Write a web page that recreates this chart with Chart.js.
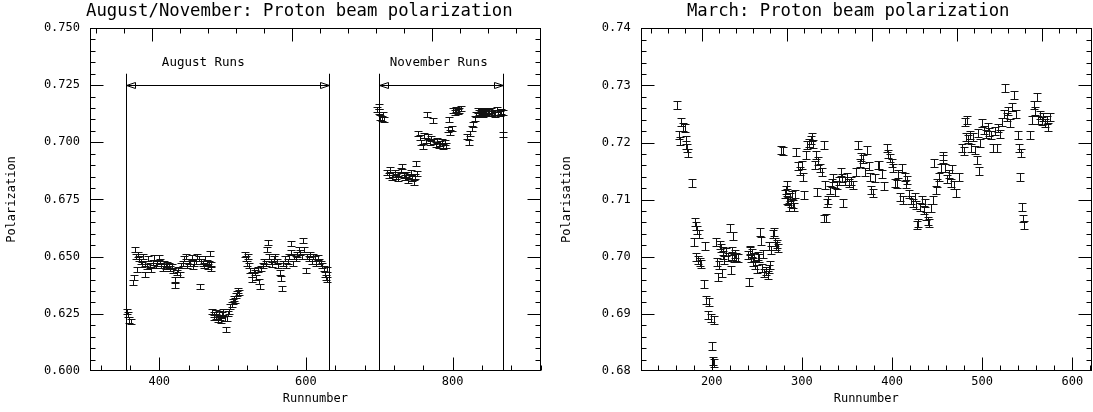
<!DOCTYPE html>
<html>
<head>
<meta charset="utf-8">
<script src="https://cdn.jsdelivr.net/npm/chart.js@4.4.1/dist/chart.umd.min.js"></script>
<style>
  html, body { margin: 0; padding: 0; background: #fff; }
  #wrap { position: relative; width: 1093px; height: 412px; }
  .panel { position: absolute; top: 0; height: 412px; }
  #pL { left: 0; width: 546px; }
  #pR { left: 546px; width: 547px; }
</style>
</head>
<body>
<div id="wrap">
  <div class="panel" id="pL"><canvas id="cL"></canvas></div>
  <div class="panel" id="pR"><canvas id="cR"></canvas></div>
</div>
<script>
/* August runs: run number / polarization */
const augRuns = [356, 358, 359, 361, 364, 365, 367, 368, 369, 371,
  373, 375, 377, 378, 380, 381, 383, 385, 387, 389,
  391, 393, 395, 397, 399, 401, 403, 405, 407, 409,
  411, 413, 415, 417, 419, 421, 422, 424, 426, 428,
  430, 432, 434, 436, 438, 440, 442, 444, 446, 448,
  450, 452, 454, 455, 457, 459, 461, 463, 465, 467,
  468, 469, 470, 471,
  472, 474, 475, 477, 478, 480, 481, 483, 484, 486,
  487, 489, 491, 492, 494, 495, 497, 499, 500, 502,
  503, 505, 506, 508, 509,
  517, 518, 520, 521, 523, 524, 526, 527, 529, 530,
  532, 534, 536, 538, 539, 541, 543, 545, 547, 548,
  550, 552, 554, 556, 558, 560, 562, 564, 566, 567,
  569, 571, 573, 575, 577, 579, 580, 582, 584, 586,
  588, 590, 592, 594, 596, 598, 600, 602, 604, 606,
  608, 610, 612, 614, 616, 618, 620, 622, 624, 626,
  627, 628, 629];
const augPol = [0.6260, 0.6245, 0.6223, 0.6216, 0.6385, 0.6410, 0.6530, 0.6500, 0.6445, 0.6510,
  0.6490, 0.6480, 0.6465, 0.6500, 0.6424, 0.6470, 0.6455, 0.6490, 0.6460, 0.6445,
  0.6475, 0.6495, 0.6460, 0.6470, 0.6495, 0.6480, 0.6460, 0.6450, 0.6470, 0.6455,
  0.6465, 0.6460, 0.6448, 0.6455, 0.6440, 0.6376, 0.6400, 0.6430, 0.6445, 0.6420,
  0.6460, 0.6470, 0.6490, 0.6500, 0.6460, 0.6480, 0.6470, 0.6495, 0.6455, 0.6470,
  0.6480, 0.6500, 0.6490, 0.6369, 0.6480, 0.6470, 0.6460, 0.6490, 0.6475, 0.6455,
  0.6470, 0.6515, 0.6450, 0.6465,
  0.6262, 0.6248, 0.6232, 0.6255, 0.6240, 0.6225, 0.6250, 0.6236, 0.6220, 0.6245,
  0.6258, 0.6230, 0.6180, 0.6228, 0.6250, 0.6262, 0.6280, 0.6292, 0.6303, 0.6318,
  0.6310, 0.6330, 0.6340, 0.6352, 0.6345,
  0.6510, 0.6490, 0.6470, 0.6500, 0.6460, 0.6440, 0.6420, 0.6400, 0.6440, 0.6430,
  0.6410, 0.6445, 0.6390, 0.6370, 0.6450, 0.6460, 0.6480, 0.6470, 0.6530, 0.6560,
  0.6500, 0.6480, 0.6465, 0.6490, 0.6500, 0.6480, 0.6460, 0.6430, 0.6406, 0.6362,
  0.6470, 0.6490, 0.6460, 0.6480, 0.6500, 0.6520, 0.6558, 0.6470, 0.6500, 0.6490,
  0.6510, 0.6530, 0.6520, 0.6500, 0.6570, 0.6530, 0.6439, 0.6500, 0.6490, 0.6510,
  0.6480, 0.6500, 0.6490, 0.6470, 0.6495, 0.6480, 0.6470, 0.6460, 0.6450, 0.6420,
  0.6410, 0.6445, 0.6400];

/* November runs */
const novRuns = [697, 699, 700, 701, 703, 705, 707,
  711, 713, 715, 717, 719, 721, 723, 725, 727, 729,
  731, 733, 735, 737, 739, 741, 743, 745, 747, 749,
  750, 752, 753, 755, 757, 759, 761, 763, 765, 767,
  769, 771, 773, 775, 777, 779, 781, 783, 785, 787,
  789, 791, 793, 795, 797, 799, 801, 803, 805, 807,
  809, 811, 820, 822, 824, 826, 828, 830, 832, 834,
  836, 838, 840, 842, 844, 846, 848, 850, 852, 854,
  856, 858, 860, 862, 864, 866, 868, 869];
const novPol = [0.7145, 0.7155, 0.7135, 0.7110, 0.7105, 0.7120, 0.7100,
  0.6870, 0.6855, 0.6880, 0.6845, 0.6860, 0.6870, 0.6850, 0.6840, 0.6860, 0.6875,
  0.6894, 0.6855, 0.6845, 0.6860, 0.6835, 0.6850, 0.6870, 0.6840, 0.6825, 0.6850,
  0.6908, 0.6865, 0.7040, 0.7020, 0.7000, 0.6980, 0.7030, 0.7010, 0.7120, 0.7025,
  0.7000, 0.7015, 0.7095, 0.7005, 0.6990, 0.7010, 0.6985, 0.6995, 0.7005, 0.6980,
  0.7000, 0.6985, 0.7055, 0.7100, 0.7045, 0.7060, 0.7140, 0.7130, 0.7145, 0.7135,
  0.7140, 0.7150, 0.7025, 0.7000, 0.7040, 0.7060, 0.7080, 0.7105, 0.7120, 0.7140,
  0.7130, 0.7125, 0.7135, 0.7120, 0.7140, 0.7130, 0.7125, 0.7135, 0.7140, 0.7125,
  0.7130, 0.7120, 0.7145, 0.7130, 0.7125, 0.7135, 0.7130, 0.7035];

/* March runs */
const marRuns = [162, 164, 165, 166, 168, 170, 171, 172, 173, 174,
  178, 180, 181, 182, 183, 184, 185, 186, 187, 188,
  191, 193, 194, 196, 197, 199, 200, 201, 202, 203,
  205, 206, 207, 208, 209, 210, 211, 212, 213, 214,
  216, 218, 220, 221, 222, 223, 224, 225, 226, 227,
  229, 240, 241, 242, 243, 244, 245, 246, 247, 248,
  250, 251, 252, 253, 255, 256, 257, 258, 260, 262,
  263, 264, 265, 266, 268, 269, 270, 271, 272, 273,
  277, 279, 281, 282, 283, 284, 285, 286, 287, 288,
  289, 290, 291, 292, 294, 296, 298, 300, 301, 302,
  305, 306, 308, 310, 311, 312, 314, 316, 317, 318,
  320, 322, 324, 325, 326, 327, 328, 329, 331, 333,
  335, 337, 339, 341, 343, 345, 346, 348, 350, 352,
  355, 357, 360, 362, 364, 366, 368, 370, 372, 374,
  376, 377, 379, 381, 384, 386, 389, 391, 394, 396,
  398, 400, 401, 403, 405, 407, 409, 411, 412, 414,
  415, 417, 419, 421, 423, 425, 427, 428, 429, 431,
  433, 435, 437, 438, 440, 441, 443, 445, 447, 449,
  450, 452, 454, 456, 457, 459, 461, 463, 465, 467,
  469, 471, 474, 478, 480, 481, 482, 483, 484, 486,
  488, 490, 492, 494, 495, 496, 498, 500, 502, 504,
  506, 508, 510, 512, 514, 516, 518, 520, 522, 524,
  525, 527, 529, 531, 533, 535, 537, 540, 541, 542,
  543, 544, 545, 546, 553, 555, 557, 559, 561, 562,
  564, 566, 568, 570, 572, 573, 575];
const marPol = [0.7266, 0.7213, 0.7203, 0.7236, 0.7228, 0.7225, 0.7195, 0.7205, 0.7190, 0.7181,
  0.7129, 0.7026, 0.7061, 0.7053, 0.7000, 0.7047, 0.6994, 0.7040, 0.6990, 0.6988,
  0.6952, 0.7018, 0.6924, 0.6898, 0.6920, 0.6892, 0.6843, 0.6818, 0.6890, 0.6814,
  0.7026, 0.6990, 0.6965, 0.6985, 0.7020, 0.7016, 0.6972, 0.7010, 0.7003, 0.6995,
  0.7008, 0.7000, 0.7050, 0.6977, 0.7010, 0.7002, 0.7037, 0.6998, 0.7005, 0.7000,
  0.6998, 0.7003, 0.6955, 0.7010, 0.7012, 0.6998, 0.7006, 0.6990, 0.7000, 0.6985,
  0.6978, 0.7002, 0.6998, 0.7044, 0.7028, 0.6980, 0.7004, 0.6972, 0.6975, 0.6968,
  0.6978, 0.7018, 0.6985, 0.7012, 0.7040, 0.7044, 0.7025, 0.7018, 0.7022, 0.7015,
  0.7187, 0.7185, 0.7110, 0.7117, 0.7126, 0.7100, 0.7098, 0.7088, 0.7105, 0.7095,
  0.7108, 0.7092, 0.7088, 0.7110, 0.7184, 0.7159, 0.7150, 0.7160, 0.7140, 0.7108,
  0.7178, 0.7195, 0.7200, 0.7205, 0.7210, 0.7198, 0.7160, 0.7178, 0.7114, 0.7168,
  0.7155, 0.7149, 0.7196, 0.7067, 0.7126, 0.7068, 0.7094, 0.7100, 0.7117, 0.7130,
  0.7138, 0.7114, 0.7126, 0.7132, 0.7149, 0.7138, 0.7094, 0.7132, 0.7140, 0.7130,
  0.7132, 0.7125, 0.7148, 0.7196, 0.7164, 0.7175, 0.7171, 0.7148, 0.7187, 0.7159,
  0.7140, 0.7117, 0.7111, 0.7138, 0.7160, 0.7160, 0.7145, 0.7124, 0.7190, 0.7180,
  0.7173, 0.7165, 0.7155, 0.7130, 0.7128, 0.7145, 0.7105, 0.7155, 0.7100, 0.7140,
  0.7128, 0.7135, 0.7110, 0.7100, 0.7095, 0.7105, 0.7090, 0.7056, 0.7059, 0.7088,
  0.7100, 0.7082, 0.7094, 0.7072, 0.7063, 0.7059, 0.7085, 0.7100, 0.7164, 0.7117,
  0.7130, 0.7140, 0.7155, 0.7176, 0.7172, 0.7155, 0.7136, 0.7145, 0.7130, 0.7153,
  0.7126, 0.7111, 0.7140, 0.7190, 0.7185, 0.7236, 0.7210, 0.7240, 0.7206, 0.7213,
  0.7190, 0.7210, 0.7187, 0.7169, 0.7216, 0.7151, 0.7200, 0.7234, 0.7222, 0.7215,
  0.7228, 0.7219, 0.7213, 0.7190, 0.7220, 0.7190, 0.7225, 0.7215, 0.7236, 0.7250,
  0.7295, 0.7245, 0.7255, 0.7234, 0.7262, 0.7283, 0.7250, 0.7213, 0.7190, 0.7140,
  0.7181, 0.7088, 0.7067, 0.7055, 0.7213, 0.7240, 0.7266, 0.7255, 0.7280, 0.7240,
  0.7248, 0.7238, 0.7245, 0.7235, 0.7240, 0.7228, 0.7245];

/* error bar half-heights */
const augNovErr = 0.0011;
const marErr = 0.0007;

/* run period markers on the left plot */
const periodNames = ["August Runs", "November Runs"];
const periodStart = [355, 700];
const periodEnd = [631, 869];
const periodLabelX = [460, 781];

/* tick labels */
const leftXTicks = [400, 600, 800];
const leftYTicks = [0.600, 0.625, 0.650, 0.675, 0.700, 0.725, 0.750];
const rightXTicks = [200, 300, 400, 500, 600];
const rightYTicks = [0.68, 0.69, 0.70, 0.71, 0.72, 0.73, 0.74];

const MONO = "'DejaVu Sans Mono', monospace";
const pts = (xs, ys) => xs.map((x, i) => ({ x, y: ys[i] }));

/* list tick positions (pixel, length) for a scale */
function tickMarks(sc, step, major) {
  const out = [];
  const n0 = Math.ceil(sc.min / step - 1e-6), n1 = Math.floor(sc.max / step + 1e-6);
  for (let k = n0; k <= n1; k++) {
    const v = k * step, r = v / major;
    const p = sc.getPixelForValue(v);
    if (isFinite(p)) out.push({ p: Math.round(p) + 0.5, len: Math.abs(r - Math.round(r)) < 1e-6 ? 13 : 5 });
  }
  return out;
}

/* PAW-like frame: box with inward major/minor ticks on all four sides */
const frame = {
  id: "frame",
  afterDraw(chart, args, o) {
    const { ctx, chartArea: a, scales } = chart;
    const L = Math.round(a.left) + 0.5, R = Math.round(a.right) - 0.5;
    const T = Math.round(a.top) + 0.5, B = Math.round(a.bottom) - 0.5;
    ctx.save();
    ctx.strokeStyle = "#000"; ctx.lineWidth = 1;
    const seg = (x0, y0, x1, y1) => { ctx.beginPath(); ctx.moveTo(x0, y0); ctx.lineTo(x1, y1); ctx.stroke(); };
    tickMarks(scales.x, o.xMinor, o.xMajor).forEach(m => seg(m.p, B, m.p, B - m.len));
    tickMarks(scales.xTop, o.xTopMinor, o.xTopMajor).forEach(m => seg(m.p, T, m.p, T + m.len));
    tickMarks(scales.y, o.yMinor, o.yMajor).forEach(m => {
      const q = Math.min(Math.max(m.p, T), B);
      seg(L, q, L + m.len, q);
      seg(R, q, R - m.len, q);
    });
    ctx.strokeRect(L, T, R - L, B - T);
    // title
    ctx.fillStyle = "#000";
    ctx.font = "17.3px " + MONO;
    ctx.textAlign = "center"; ctx.textBaseline = "middle";
    ctx.fillText(o.title, (a.left + a.right) / 2 + o.titleDx, 12);
    ctx.restore();
  }
};

/* capped vertical error bars at every data point */
const errorBars = {
  id: "errorBars",
  afterDatasetsDraw(chart, args, o) {
    const { ctx, chartArea: a, scales: { x, y } } = chart;
    ctx.save();
    ctx.beginPath(); ctx.rect(a.left, a.top, a.width, a.height); ctx.clip();
    ctx.strokeStyle = "#111"; ctx.lineWidth = 1;
    ctx.beginPath();
    chart.data.datasets.forEach(ds => ds.data.forEach(p => {
      const px = Math.round(x.getPixelForValue(p.x)) + 0.5;
      const y1 = Math.round(y.getPixelForValue(p.y + o.err)) + 0.5;
      const y2 = Math.round(y.getPixelForValue(p.y - o.err)) + 0.5;
      ctx.moveTo(px, y1); ctx.lineTo(px, y2);
      ctx.moveTo(px - o.cap, y1); ctx.lineTo(px + o.cap, y1);
      ctx.moveTo(px - o.cap, y2); ctx.lineTo(px + o.cap, y2);
    }));
    ctx.stroke();
    ctx.restore();
  }
};

/* run-period brackets: vertical lines, double arrow, label */
const periods = {
  id: "periods",
  afterDatasetsDraw(chart, args, o) {
    if (!o.names) return;
    const { ctx, chartArea: a, scales: { x, y } } = chart;
    const yTop = y.getPixelForValue(o.lineTop);
    const yArr = Math.round(y.getPixelForValue(o.arrowY)) + 0.5;
    const yLab = y.getPixelForValue(o.labelY);
    ctx.save();
    ctx.strokeStyle = "#000"; ctx.lineWidth = 1; ctx.fillStyle = "#000";
    ctx.font = "12.5px " + MONO; ctx.textAlign = "center"; ctx.textBaseline = "middle";
    o.names.forEach((name, i) => {
      const x0 = Math.round(x.getPixelForValue(o.start[i])) + 0.5;
      const x1 = Math.round(x.getPixelForValue(o.end[i])) + 0.5;
      ctx.beginPath();
      ctx.moveTo(x0, yTop); ctx.lineTo(x0, a.bottom);
      ctx.moveTo(x1, yTop); ctx.lineTo(x1, a.bottom);
      ctx.moveTo(x0, yArr); ctx.lineTo(x1, yArr);
      ctx.moveTo(x0, yArr); ctx.lineTo(x0 + 9, yArr - 3); ctx.lineTo(x0 + 9, yArr + 3); ctx.closePath();
      ctx.moveTo(x1, yArr); ctx.lineTo(x1 - 9, yArr - 3); ctx.lineTo(x1 - 9, yArr + 3); ctx.closePath();
      ctx.stroke();
      ctx.fillText(name, x.getPixelForValue(o.labelX[i]), yLab);
    });
    ctx.restore();
  }
};

function makeChart(id, cfg) {
  const tickFont = { family: MONO, size: 12 };
  return new Chart(document.getElementById(id), {
    type: "scatter",
    data: { datasets: cfg.datasets.map(d => ({ data: d, pointRadius: 0, pointHoverRadius: 0, showLine: false })) },
    options: {
      responsive: true, maintainAspectRatio: false, animation: false,
      layout: { padding: cfg.padding },
      plugins: {
        legend: { display: false }, tooltip: { enabled: false },
        frame: cfg.frame, errorBars: cfg.errorBars, periods: cfg.periods || {}
      },
      scales: {
        x: {
          type: "linear", position: "bottom", min: cfg.xMin, max: cfg.xMax,
          afterBuildTicks: ax => { ax.ticks = cfg.xTicks.map(v => ({ value: v })); },
          afterFit: ax => { ax.height = 41; },
          grid: { display: false, drawTicks: false }, border: { display: false },
          ticks: { font: tickFont, color: "#000", padding: 4, maxRotation: 0 },
          title: { display: true, text: "Runnumber", font: tickFont, color: "#000", padding: { top: 0, bottom: 6 } }
        },
        xTop: { type: "linear", position: "top", display: false, min: cfg.xTopMin, max: cfg.xTopMax },
        y: {
          type: "linear", position: "left", min: cfg.yMin, max: cfg.yMax,
          afterBuildTicks: ax => { ax.ticks = cfg.yTicks.map(v => ({ value: v })); },
          afterFit: ax => { ax.width = cfg.yWidth; },
          grid: { display: false, drawTicks: false }, border: { display: false },
          ticks: { font: tickFont, color: "#000", padding: 10, callback: v => v.toFixed(cfg.yDec) },
          title: { display: true, text: cfg.yTitle, font: tickFont, color: "#000", padding: { top: cfg.yTitlePad, bottom: 0 } }
        }
      }
    },
    plugins: [frame, errorBars, periods]
  });
}

makeChart("cL", {
  datasets: [pts(augRuns, augPol), pts(novRuns, novPol)],
  padding: { top: 28, right: 5.3, left: 0, bottom: 0 },
  xMin: 305.6, xMax: 920, xTicks: leftXTicks,
  xTopMin: 311.9, xTopMax: 955.8,
  yMin: 0.600, yMax: 0.750, yTicks: leftYTicks, yDec: 3, yWidth: 90,
  yTitle: "Polarization", yTitlePad: 5,
  frame: { xMinor: 40, xMajor: 200, xTopMinor: 40, xTopMajor: 200, yMinor: 0.005, yMajor: 0.025,
           title: "August/November: Proton beam polarization", titleDx: -16 },
  errorBars: { err: augNovErr, cap: 4 },
  periods: { names: periodNames, start: periodStart, end: periodEnd, labelX: periodLabelX,
             lineTop: 0.730, arrowY: 0.725, labelY: 0.7347 }
});

makeChart("cR", {
  datasets: [pts(marRuns, marPol)],
  padding: { top: 28.3, right: 1.3, left: 0, bottom: 0 },
  xMin: 121.2, xMax: 621.5, xTicks: rightXTicks,
  xTopMin: 127.5, xTopMax: 658.1,
  yMin: 0.68, yMax: 0.74, yTicks: rightYTicks, yDec: 2, yWidth: 94.7,
  yTitle: "Polarisation", yTitlePad: 14,
  frame: { xMinor: 20, xMajor: 100, xTopMinor: 20, xTopMajor: 100, yMinor: 0.002, yMajor: 0.01,
           title: "March: Proton beam polarization", titleDx: -18 },
  errorBars: { err: marErr, cap: 4 }
});
</script>
</body>
</html>
